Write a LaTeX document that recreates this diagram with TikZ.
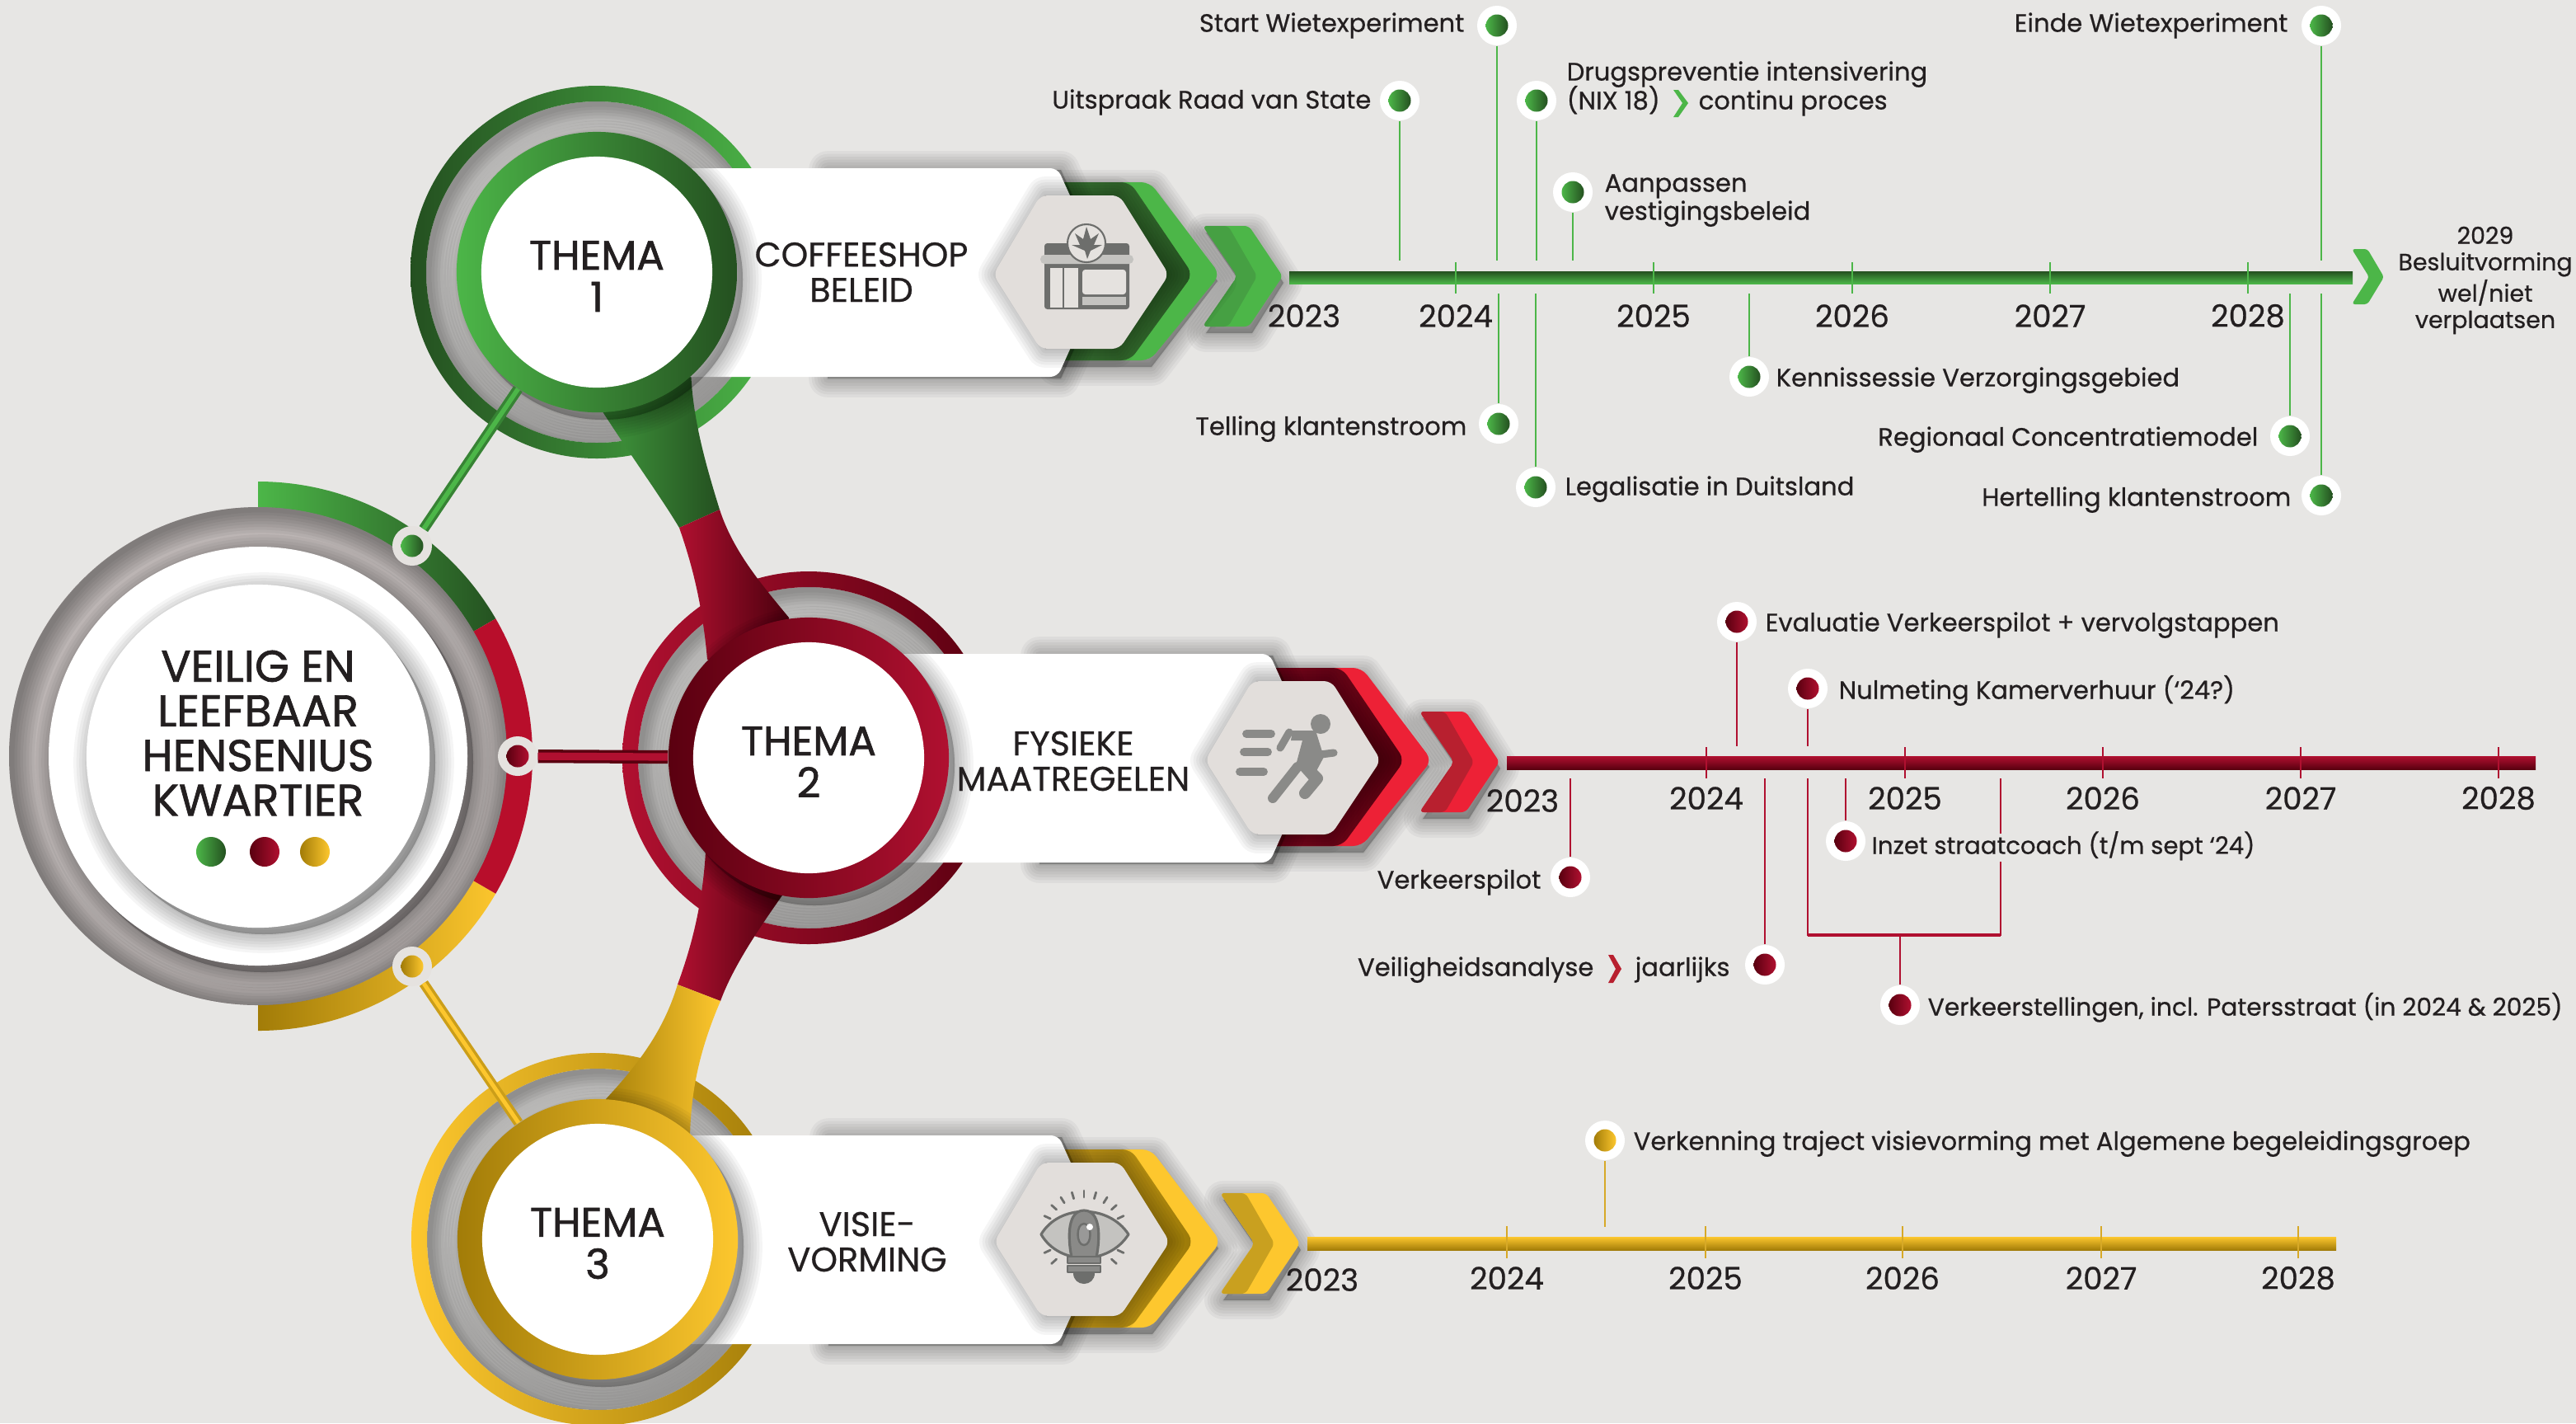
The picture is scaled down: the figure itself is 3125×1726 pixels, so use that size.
\documentclass[tikz,border=0pt]{standalone}
\usepackage{fontspec}
\setmainfont{Poppins}[FakeBold=0.6]
\newfontfamily\headfont{Poppins}[FakeBold=1.3]
\usetikzlibrary{positioning,calc}

\definecolor{bggrey}{HTML}{E7E6E4}
\definecolor{hexgrey}{HTML}{E2DEDB}
\definecolor{ink}{HTML}{231F20}
\definecolor{hubring}{HTML}{E5E2DF}
\definecolor{iconmid}{HTML}{6D6E6C}
\definecolor{iconrun}{HTML}{8A8A88}
\definecolor{iconpale}{HTML}{C4C3C0}
% theme colours
\definecolor{greenringa}{HTML}{4CB648}
\definecolor{greenringb}{HTML}{245020}
\definecolor{greenbright}{HTML}{4CB648}
\definecolor{greenchevl}{HTML}{3F8038}
\definecolor{greenchevr}{HTML}{245020}
\definecolor{greensoft}{HTML}{46A043}
\definecolor{redringa}{HTML}{5A0010}
\definecolor{redringb}{HTML}{B01030}
\definecolor{redbright}{HTML}{ED2136}
\definecolor{redchevl}{HTML}{8A0A20}
\definecolor{redchevr}{HTML}{4E000D}
\definecolor{redsoft}{HTML}{B8202F}
\definecolor{goldringa}{HTML}{A27C08}
\definecolor{goldringb}{HTML}{FDC72E}
\definecolor{goldbright}{HTML}{FDC72E}
\definecolor{goldchevl}{HTML}{D0A21C}
\definecolor{goldchevr}{HTML}{9C7A08}
\definecolor{goldsoft}{HTML}{C9A01F}
\definecolor{hollowmid}{HTML}{D2D1CF}
\definecolor{discmid}{HTML}{BCB5B4}

\tikzset{
	softlayer/.style={draw=black,fill=black,draw opacity=.04,fill opacity=.04,line join=round},
	edgelayer/.style={draw=black,draw opacity=.045},
	whitedisc/.style={circle,fill=white,inner sep=0pt,minimum size=2.8cm},
	themalabel/.style={text=ink,inner sep=0pt,align=center,font=\headfont\fontsize{14.2}{14.5}\selectfont},
	evtlabel/.style={text=ink,inner sep=0pt,font=\fontsize{8.7}{9.7}\selectfont,align=left},
	yearlabel/.style={text=ink,inner sep=0pt,font=\fontsize{10.6}{11}\selectfont},
	bandlabel/.style={text=ink,inner sep=0pt,align=center,font=\fontsize{11.8}{12.2}\selectfont},
	halo/.style={circle,fill=white,inner sep=0pt,minimum size=.48cm},
	hubdot/.style={circle,fill=hubring,inner sep=0pt,minimum size=.48cm},
	pipgreen/.style={circle,inner sep=0pt,minimum size=.27cm,left color=greenringa,right color=greenringb},
	pipred/.style={circle,inner sep=0pt,minimum size=.27cm,left color=redringa,right color=redringb},
	pipgold/.style={circle,inner sep=0pt,minimum size=.27cm,left color=goldringa,right color=goldringb},
	greenline/.style={draw=greenringa,line width=.7pt},
	redline/.style={draw=redringb,line width=.7pt},
	goldline/.style={draw=goldringb!85!black,line width=.7pt},
}

\newcommand{\softshadow}[2][]{%
	\foreach \blurwd in {1,3,...,13}
		\path[softlayer,line width=\blurwd pt,#1] #2;}

% grey disc darkened towards its rim
\newcommand{\greydisc}[4]{%
	\begin{scope}
		\fill[#4] (#1,#2) circle (#3);
		\clip (#1,#2) circle (#3);
		\foreach \blurwd in {2,4,...,16}
			\draw[edgelayer,line width=\blurwd pt] (#1,#2) ++(3,3) circle (#3);
	\end{scope}}

% rear part of a theme: hollow disc and outer ring
\newcommand{\themaback}[3]{%
	\begin{scope}[shift={(#1,#2)}]
		\greydisc{724}{330}{207}{hollowmid}
		\path[even odd rule,left color=#3ringb,right color=#3ringa] (724,330) circle (226) (724,330) circle (207);
	\end{scope}}

% front part of a theme: chevrons, band, hexagon, inner ring
\newcommand{\themafront}[6]{%
	\begin{scope}[shift={(#2,#3)}]
		\begin{scope}[xshift=#4*0.01cm]
			\softshadow[shift={(4,8)}]{(1459,274) -- (1515,274) -- (1553,335) -- (1515,396) -- (1459,396) -- (1501,335) -- cycle}
			\fill[#5bright,rounded corners=1.5pt] (1459,274) -- (1515,274) -- (1556,335) -- (1515,396) -- (1459,396) -- (1501,335) -- cycle;
			\fill[#5soft,rounded corners=1.5pt] (1459,274) -- (1490,274) -- (1525,335) -- (1490,396) -- (1459,396) -- (1501,335) -- cycle;
		\end{scope}
		\softshadow[shift={(2,8)}]{(1280,221) -- (1395,221) -- (1475,333) -- (1395,437) -- (1280,437) -- cycle}
		\path[fill=#5bright,rounded corners=3pt] (1280,221) -- (1395,221) -- (1480,333) -- (1395,437) -- (1280,437) -- cycle;
		\path[left color=#5chevl,right color=#5chevr,rounded corners=3pt] (1280,221) -- (1371,221) -- (1447,333) -- (1371,437) -- (1280,437) -- cycle;
		\softshadow[shift={(4,2)}]{(1000,204) -- (1283,204) -- (1340,330) -- (1283,457) -- (1000,457) -- cycle}
		\path[fill=white,rounded corners=2.5pt] (724,204) -- (1283,204) -- (1340,330) -- (1283,457) -- (724,457) -- cycle;
		\softshadow{(1268,237) -- (1353,237) -- (1413,333) -- (1353,423) -- (1268,423) -- (1210,333) -- cycle}
		\path[fill=hexgrey,rounded corners=2.5pt] (1262,237) -- (1358,237) -- (1418,333) -- (1358,423) -- (1262,423) -- (1205,333) -- cycle;
		\softshadow[shift={(7,9)}]{(724,330) circle (170)}
		\node[circle,inner sep=0pt,minimum size=3.4cm,left color=#5ringa,right color=#5ringb] (#1ring) at (724,330) {};
		\node[whitedisc] (#1) at (724,330) {};
		\node[themalabel] (#1text) at (724,335) {THEMA\\#6};
	\end{scope}}

\newcommand{\eventdot}[4]{%
	\node[halo] (#1) at (#2,#3) {};
	\node[#4] (#1pip) at (#1) {};}

\begin{document}
\begin{tikzpicture}[x=0.01cm,y=-0.01cm]
	% Background
	\path[fill=bggrey,use as bounding box] (0,0) rectangle (3125,1726);

	% Central disc with coloured arcs
	\begin{scope}[even odd rule]
		\clip (313,917) circle (333) (313,917) circle (300);
		\path[left color=greenringa,right color=greenringb] (313,917) -- (313,584) -- (607,584) -- (607,747) -- cycle;
		\path[left color=goldringa,right color=goldringb] (313,917) -- (313,1250) -- (607,1250) -- (607,1087) -- cycle;
		\fill[redringb!90!red] (313,917) -- (607,747) -- (650,747) -- (650,1087) -- (607,1087) -- cycle;
	\end{scope}
	\greydisc{313}{917}{302}{discmid}
	\softshadow[shift={(7,8)}]{(313,917) circle (254)}
	\fill[white] (313,917) circle (254);
	\softshadow[shift={(7,8)}]{(313,917) circle (208)}
	\node[circle,fill=white,inner sep=0pt,minimum size=4.16cm] (hubcentre) at (313,917) {};
	\node[text=ink,inner sep=0pt,align=center,font=\headfont\fontsize{15.3}{15.4}\selectfont] (hubtitle) at (313,889)
		{VEILIG EN\\LEEFBAAR\\HENSENIUS\\KWARTIER};
	\node[pipgreen,minimum size=.36cm] (centregreen) at (256,1033) {};
	\node[pipred,minimum size=.36cm] (centrered) at (321,1033) {};
	\node[pipgold,minimum size=.36cm] (centregold) at (382,1033) {};

	% Theme rear parts
	\themaback{0}{0}{green}
	\themaback{257}{589}{red}
	\themaback{1}{1173}{gold}

	% Funnels between the themes
	\path[left color=greenringa!85!black,right color=greenringb] (725,490) .. controls (770,560) and (800,600) .. (824,640) -- (873,618)
		.. controls (855,560) and (838,500) .. (838,440) -- cycle;
	\path[left color=redringb,right color=redringa!80!black] (824,640) .. controls (838,680) and (852,730) .. (858,800) -- (960,790) -- (957,749)
		.. controls (925,710) and (890,670) .. (873,618) -- cycle;
	\path[left color=redringb,right color=redringa!80!black] (822,1194) .. controls (838,1150) and (852,1100) .. (856,1033) -- (960,1050) -- (951,1083)
		.. controls (925,1120) and (890,1170) .. (874,1214) -- cycle;
	\path[left color=goldringa,right color=goldringb] (822,1194) .. controls (805,1250) and (775,1290) .. (733,1335) -- (725,1345) -- (837,1380)
		.. controls (838,1320) and (850,1270) .. (874,1214) -- cycle;

	% Theme front parts
	\themafront{themaone}{0}{0}{0}{green}{1}
	\themafront{thematwo}{257}{589}{6}{red}{2}
	\themafront{themathree}{1}{1173}{20}{gold}{3}

	\node[bandlabel] (coffee) at (1045,330) {COFFEESHOP\\BELEID};
	\node[bandlabel] (fysiek) at (1302,923) {FYSIEKE\\MAATREGELEN};
	\node[bandlabel] (visie) at (1052,1506) {VISIE-\\VORMING};

	% Hubs on the central disc and their connectors
	\node[hubdot] (hubgreen) at (500,662) {};
	\node[pipgreen] (hubgreenpip) at (hubgreen) {};
	\node[hubdot] (hubred) at (628,917) {};
	\node[pipred] (hubredpip) at (hubred) {};
	\node[hubdot] (hubgold) at (500,1172) {};
	\node[pipgold] (hubgoldpip) at (hubgold) {};
	\draw[line width=3.6pt,greenringa!72!black] (hubgreen) -- (themaonering);
	\draw[line width=1.6pt,greenringa] (hubgreen) -- (themaonering);
	\draw[line width=4.6pt,redringa] (hubred) -- (thematworing);
	\draw[line width=2.6pt,redringb] (hubred) -- (thematworing);
	\draw[line width=3.4pt,goldringa!55!goldringb] (hubgold) -- (themathreering);
	\draw[line width=1.4pt,goldringb] (hubgold) -- (themathreering);

	% Store icon
	\fill[iconmid,rounded corners=1pt] (1267,295) rectangle (1370,375);
	\fill[iconpale,rounded corners=1.5pt] (1262,309) rectangle (1375,320);
	\fill[hubring] (1274,325) rectangle (1289,373);
	\fill[hubring] (1291,325) rectangle (1308,373);
	\fill[hubring,rounded corners=1pt] (1313,327) rectangle (1366,357);
	\fill[iconpale] (1313,360) rectangle (1366,370);
	\draw[line width=.6pt,iconmid,fill=hubring] (1318,295) circle (23);
	\fill[iconmid] (1318,275) -- (1323,290) -- (1333,283) -- (1327,297) -- (1337,297) -- (1323,304) -- (1319,314)
		-- (1316,304) -- (1300,297) -- (1310,297) -- (1304,283) -- (1314,290) -- cycle;

	% Runner icon
	\begin{scope}[line cap=round,line join=round,iconrun]
		\fill (1602,878) circle (12);
		\draw[line width=2.8pt] (1512,890) -- (1542,890);
		\draw[line width=2.8pt] (1509,912) -- (1538,912);
		\draw[line width=2.8pt] (1504,936) -- (1533,936);
		\fill (1568,886) -- (1596,886) -- (1606,918) -- (1590,948) -- (1572,928) -- (1580,898) -- (1566,898) -- cycle;
		\draw[line width=4pt] (1590,936) -- (1598,944) -- (1583,962);
		\draw[line width=3.4pt] (1574,930) -- (1544,968);
		\draw[line width=2.6pt] (1553,907) -- (1564,888);
		\draw[line width=2.6pt] (1602,915) -- (1618,913);
	\end{scope}

	% Eye and bulb icon
	\begin{scope}[line cap=round,line join=round,draw=iconmid]
		\foreach \raya in {-155,-138,-122,-106,-90,-74,-58,-42,-25,25,42,138,155}
			\draw[line width=.8pt,iconmid] ($(1315,1497)+(\raya:45)$) -- ($(1315,1497)+(\raya:53)$);
		\draw[line width=.9pt,fill=iconpale] (1263,1497) .. controls (1285,1460) and (1345,1460) .. (1369,1497)
			.. controls (1345,1535) and (1285,1535) .. cycle;
		\draw[line width=.9pt,fill=iconrun] (1315,1468) .. controls (1295,1468) and (1295,1500) .. (1300,1525) -- (1330,1525)
			.. controls (1335,1500) and (1335,1468) .. (1315,1468) -- cycle;
		\draw[line width=.7pt,fill=iconmid!70] (1315,1484) .. controls (1305,1484) and (1305,1510) .. (1315,1510)
			.. controls (1325,1510) and (1325,1484) .. (1315,1484) -- cycle;
		\fill[white] (1322,1488) circle (4);
		\draw[line width=.8pt,fill=iconrun] (1295,1524) rectangle (1335,1532);
		\draw[line width=.8pt,fill=iconrun] (1295,1535) rectangle (1335,1543);
		\fill[iconmid] (1302,1544) -- (1328,1544) .. controls (1328,1552) and (1322,1557) .. (1315,1557)
			.. controls (1308,1557) and (1302,1552) .. (1302,1544) -- cycle;
	\end{scope}

	% Timeline coffeeshop
	\coordinate (gtop) at (0,316);
	\coordinate (gbot) at (0,356);
	\shade[top color=greenringb,bottom color=greenringa] (1564,329) rectangle (2854,344);
	\foreach \yr/\px in {2024/1766,2025/2006,2026/2247,2027/2487,2028/2727}{
		\draw[greenline] (\px,318) -- (\px,356);
		\node[yearlabel] (g\yr) at (\px,383) {\yr};
	}
	\node[yearlabel] (g2023) at (1582,383) {2023};
	\path[fill=greenbright,rounded corners=1pt] (2853,302) -- (2872,302) -- (2892,336) -- (2872,369) -- (2853,369) -- (2874,336) -- cycle;
	\node[text=ink,inner sep=0pt,align=center,font=\fontsize{8.1}{9.1}\selectfont] (besluit) at (3015,340)
		{2029\\Besluitvorming\\wel/niet\\verplaatsen};

	\eventdot{startwiet}{1816}{31}{pipgreen}
	\eventdot{uitspraak}{1698}{122}{pipgreen}
	\eventdot{nixdrugs}{1864}{122}{pipgreen}
	\eventdot{aanpassen}{1908}{233}{pipgreen}
	\eventdot{eindewiet}{2816}{31}{pipgreen}
	\eventdot{telling}{1818}{514}{pipgreen}
	\eventdot{legalisatie}{1863}{591}{pipgreen}
	\eventdot{kennis}{2122}{457}{pipgreen}
	\eventdot{regionaal}{2778}{529}{pipgreen}
	\eventdot{hertelling}{2816}{601}{pipgreen}
	\foreach \nm in {startwiet,uitspraak,nixdrugs,aanpassen,eindewiet}
		\draw[greenline] (\nm) -- (\nm |- gtop);
	\foreach \nm in {telling,legalisatie,kennis,regionaal,hertelling}
		\draw[greenline] (\nm) -- (\nm |- gbot);

	\node[evtlabel,anchor=mid east] (startwiettext) at (1777,29) {Start Wietexperiment};
	\node[evtlabel,anchor=mid east] (uitspraaktext) at (1664,122) {Uitspraak Raad van State};
	\node[evtlabel,anchor=mid west] (nixtexta) at (1900,88) {Drugspreventie intensivering};
	\node[evtlabel,anchor=mid west] (nixtextb) at (1900,123) {(NIX 18)};
	\path[fill=greenbright] (2030,109) -- (2036,109) -- (2048,125) -- (2036,142) -- (2030,142) -- (2041,125) -- cycle;
	\node[evtlabel,anchor=mid west] (nixtextc) at (2060,123) {continu proces};
	\node[evtlabel,anchor=mid west] (aanpassentext) at (1946,257) {Aanpassen\\vestigingsbeleid};
	\node[evtlabel,anchor=mid east] (eindetext) at (2776,29) {Einde Wietexperiment};
	\node[evtlabel,anchor=mid east] (tellingtext) at (1780,518) {Telling klantenstroom};
	\node[evtlabel,anchor=mid west] (legaltext) at (1898,591) {Legalisatie in Duitsland};
	\node[evtlabel,anchor=mid west] (kennistext) at (2154,459) {Kennissessie Verzorgingsgebied};
	\node[evtlabel,anchor=mid east] (regiotext) at (2740,531) {Regionaal Concentratiemodel};
	\node[evtlabel,anchor=mid east] (hertext) at (2780,604) {Hertelling klantenstroom};

	% Timeline fysieke maatregelen
	\coordinate (rtop) at (0,905);
	\coordinate (rbot) at (0,944);
	\shade[top color=redringb,bottom color=redringa] (1828,917) rectangle (3076,933);
	\foreach \yr/\px in {2024/2070,2025/2311,2026/2551,2027/2791,2028/3031}{
		\draw[redline] (\px,906) -- (\px,944);
		\node[yearlabel] (r\yr) at (\px,968) {\yr};
	}
	\node[yearlabel] (r2023) at (1847,971) {2023};

	\eventdot{evaluatie}{2107}{754}{pipred}
	\eventdot{nulmeting}{2193}{835}{pipred}
	\eventdot{pilot}{1905}{1064}{pipred}
	\eventdot{coach}{2239}{1020}{pipred}
	\eventdot{veilig}{2141}{1170}{pipred}
	\eventdot{tellingen}{2305}{1219}{pipred}
	\foreach \nm in {evaluatie,nulmeting}
		\draw[redline] (\nm) -- (\nm |- rtop);
	\foreach \nm in {pilot,coach,veilig}
		\draw[redline] (\nm) -- (\nm |- rbot);
	\coordinate (brackl) at (2193,944);
	\coordinate (brackm) at (2305,1134);
	\coordinate (brackr) at (2427,944);
	\coordinate (brackgap) at (2427,1011);
	\coordinate (brackgapb) at (2427,1045);
	\draw[redline] (brackl) |- (brackm) -| (brackgapb);
	\draw[redline,line width=1pt] (brackl |- brackm) -- (brackr |- brackm);
	\draw[redline] (brackr) -- (brackgap);
	\draw[redline] (tellingen) -- (brackm);

	\node[evtlabel,anchor=mid west] (evaltext) at (2141,756) {Evaluatie Verkeerspilot + vervolgstappen};
	\node[evtlabel,anchor=mid west] (nultext) at (2230,838) {Nulmeting Kamerverhuur (‘24?)};
	\node[evtlabel,anchor=mid east] (pilottext) at (1870,1068) {Verkeerspilot};
	\node[evtlabel,anchor=mid west] (coachtext) at (2270,1026) {\fontsize{8.3}{9.7}\selectfont Inzet straatcoach (t/m sept ‘24)};
	\node[evtlabel,anchor=mid east] (veiligtexta) at (1934,1174) {Veiligheidsanalyse};
	\path[fill=redsoft] (1951,1158) -- (1957,1158) -- (1967,1175) -- (1957,1192) -- (1951,1192) -- (1960,1175) -- cycle;
	\node[evtlabel,anchor=mid west] (veiligtextb) at (1983,1174) {jaarlijks};
	\node[evtlabel,anchor=mid west] (tellingentext) at (2338,1222) {\fontsize{8.45}{9.7}\selectfont Verkeerstellingen, incl. Patersstraat (in 2024 \& 2025)};

	% Timeline visievorming
	\coordinate (ytop) at (0,1488);
	\shade[top color=goldringb,bottom color=goldringa] (1586,1500) rectangle (2834,1516);
	\foreach \yr/\px in {2024/1828,2025/2069,2026/2308,2027/2549,2028/2788}{
		\draw[goldline] (\px,1487) -- (\px,1526);
		\node[yearlabel] (y\yr) at (\px,1550) {\yr};
	}
	\node[yearlabel] (y2023) at (1604,1552) {2023};
	\eventdot{verkenning}{1947}{1383}{pipgold}
	\draw[goldline] (verkenning) -- (verkenning |- ytop);
	\node[evtlabel,anchor=mid west] (verktext) at (1981,1385) {Verkenning traject visievorming met Algemene begeleidingsgroep};
\end{tikzpicture}
\end{document}
